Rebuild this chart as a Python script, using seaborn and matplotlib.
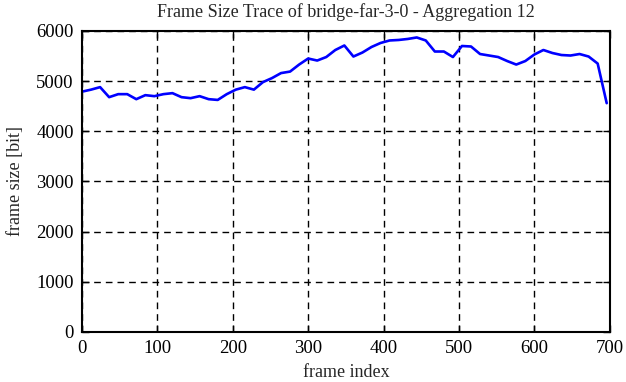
import numpy as np
import pandas as pd
import seaborn as sns
import matplotlib
matplotlib.use("Agg")
import matplotlib.pyplot as plt

# frame size trace, aggregated over 12 frames
frame_index = list(range(0, 697, 12))
frame_size = [4790, 4830, 4880, 4680, 4740, 4740, 4640, 4720, 4700, 4740,
              4760, 4680, 4660, 4700, 4640, 4625, 4740, 4830, 4880, 4830,
              4980, 5060, 5160, 5190, 5330, 5450, 5410, 5480, 5620, 5710,
              5490, 5570, 5680, 5760, 5810, 5820, 5840, 5870, 5810, 5590,
              5590, 5480, 5700, 5690, 5540, 5510, 5480, 5400, 5330, 5400,
              5530, 5620, 5560, 5520, 5510, 5540, 5490, 5350, 4560]
x_ticks = [0, 100, 200, 300, 400, 500, 600, 700]
y_ticks = [0, 1000, 2000, 3000, 4000, 5000, 6000]

df = pd.DataFrame({"frame index": frame_index, "frame size [bit]": frame_size})

sns.set_style("ticks")
plt.rcParams['font.family'] = ['Liberation Serif', 'DejaVu Serif']

fig = plt.figure(figsize=(6.26, 3.82), dpi=100)
ax = fig.add_axes([0.131, 0.131, 0.843, 0.788])

sns.lineplot(data=df, x="frame index", y="frame size [bit]", color="#0000ff",
             linewidth=1.9, ax=ax)

ax.set_xlim(0, 700)
ax.set_ylim(0, 6000)
ax.set_xticks(x_ticks)
ax.set_yticks(y_ticks)
ax.grid(True, color="black", linestyle=(0, (4.8, 3.6)), linewidth=1.0)
ax.tick_params(direction="in", top=True, right=True, length=5, width=1,
               labelsize=13.5, pad=6, colors="black")
for s in ax.spines.values():
    s.set_linewidth(1.5)
    s.set_color("black")

ax.set_xlabel("frame index", fontsize=13, labelpad=5)
ax.set_ylabel("frame size [bit]", fontsize=13, labelpad=9)
ax.set_title("Frame Size Trace of bridge-far-3-0 - Aggregation 12", fontsize=13, pad=10)

fig.savefig("out.png", dpi=100)
